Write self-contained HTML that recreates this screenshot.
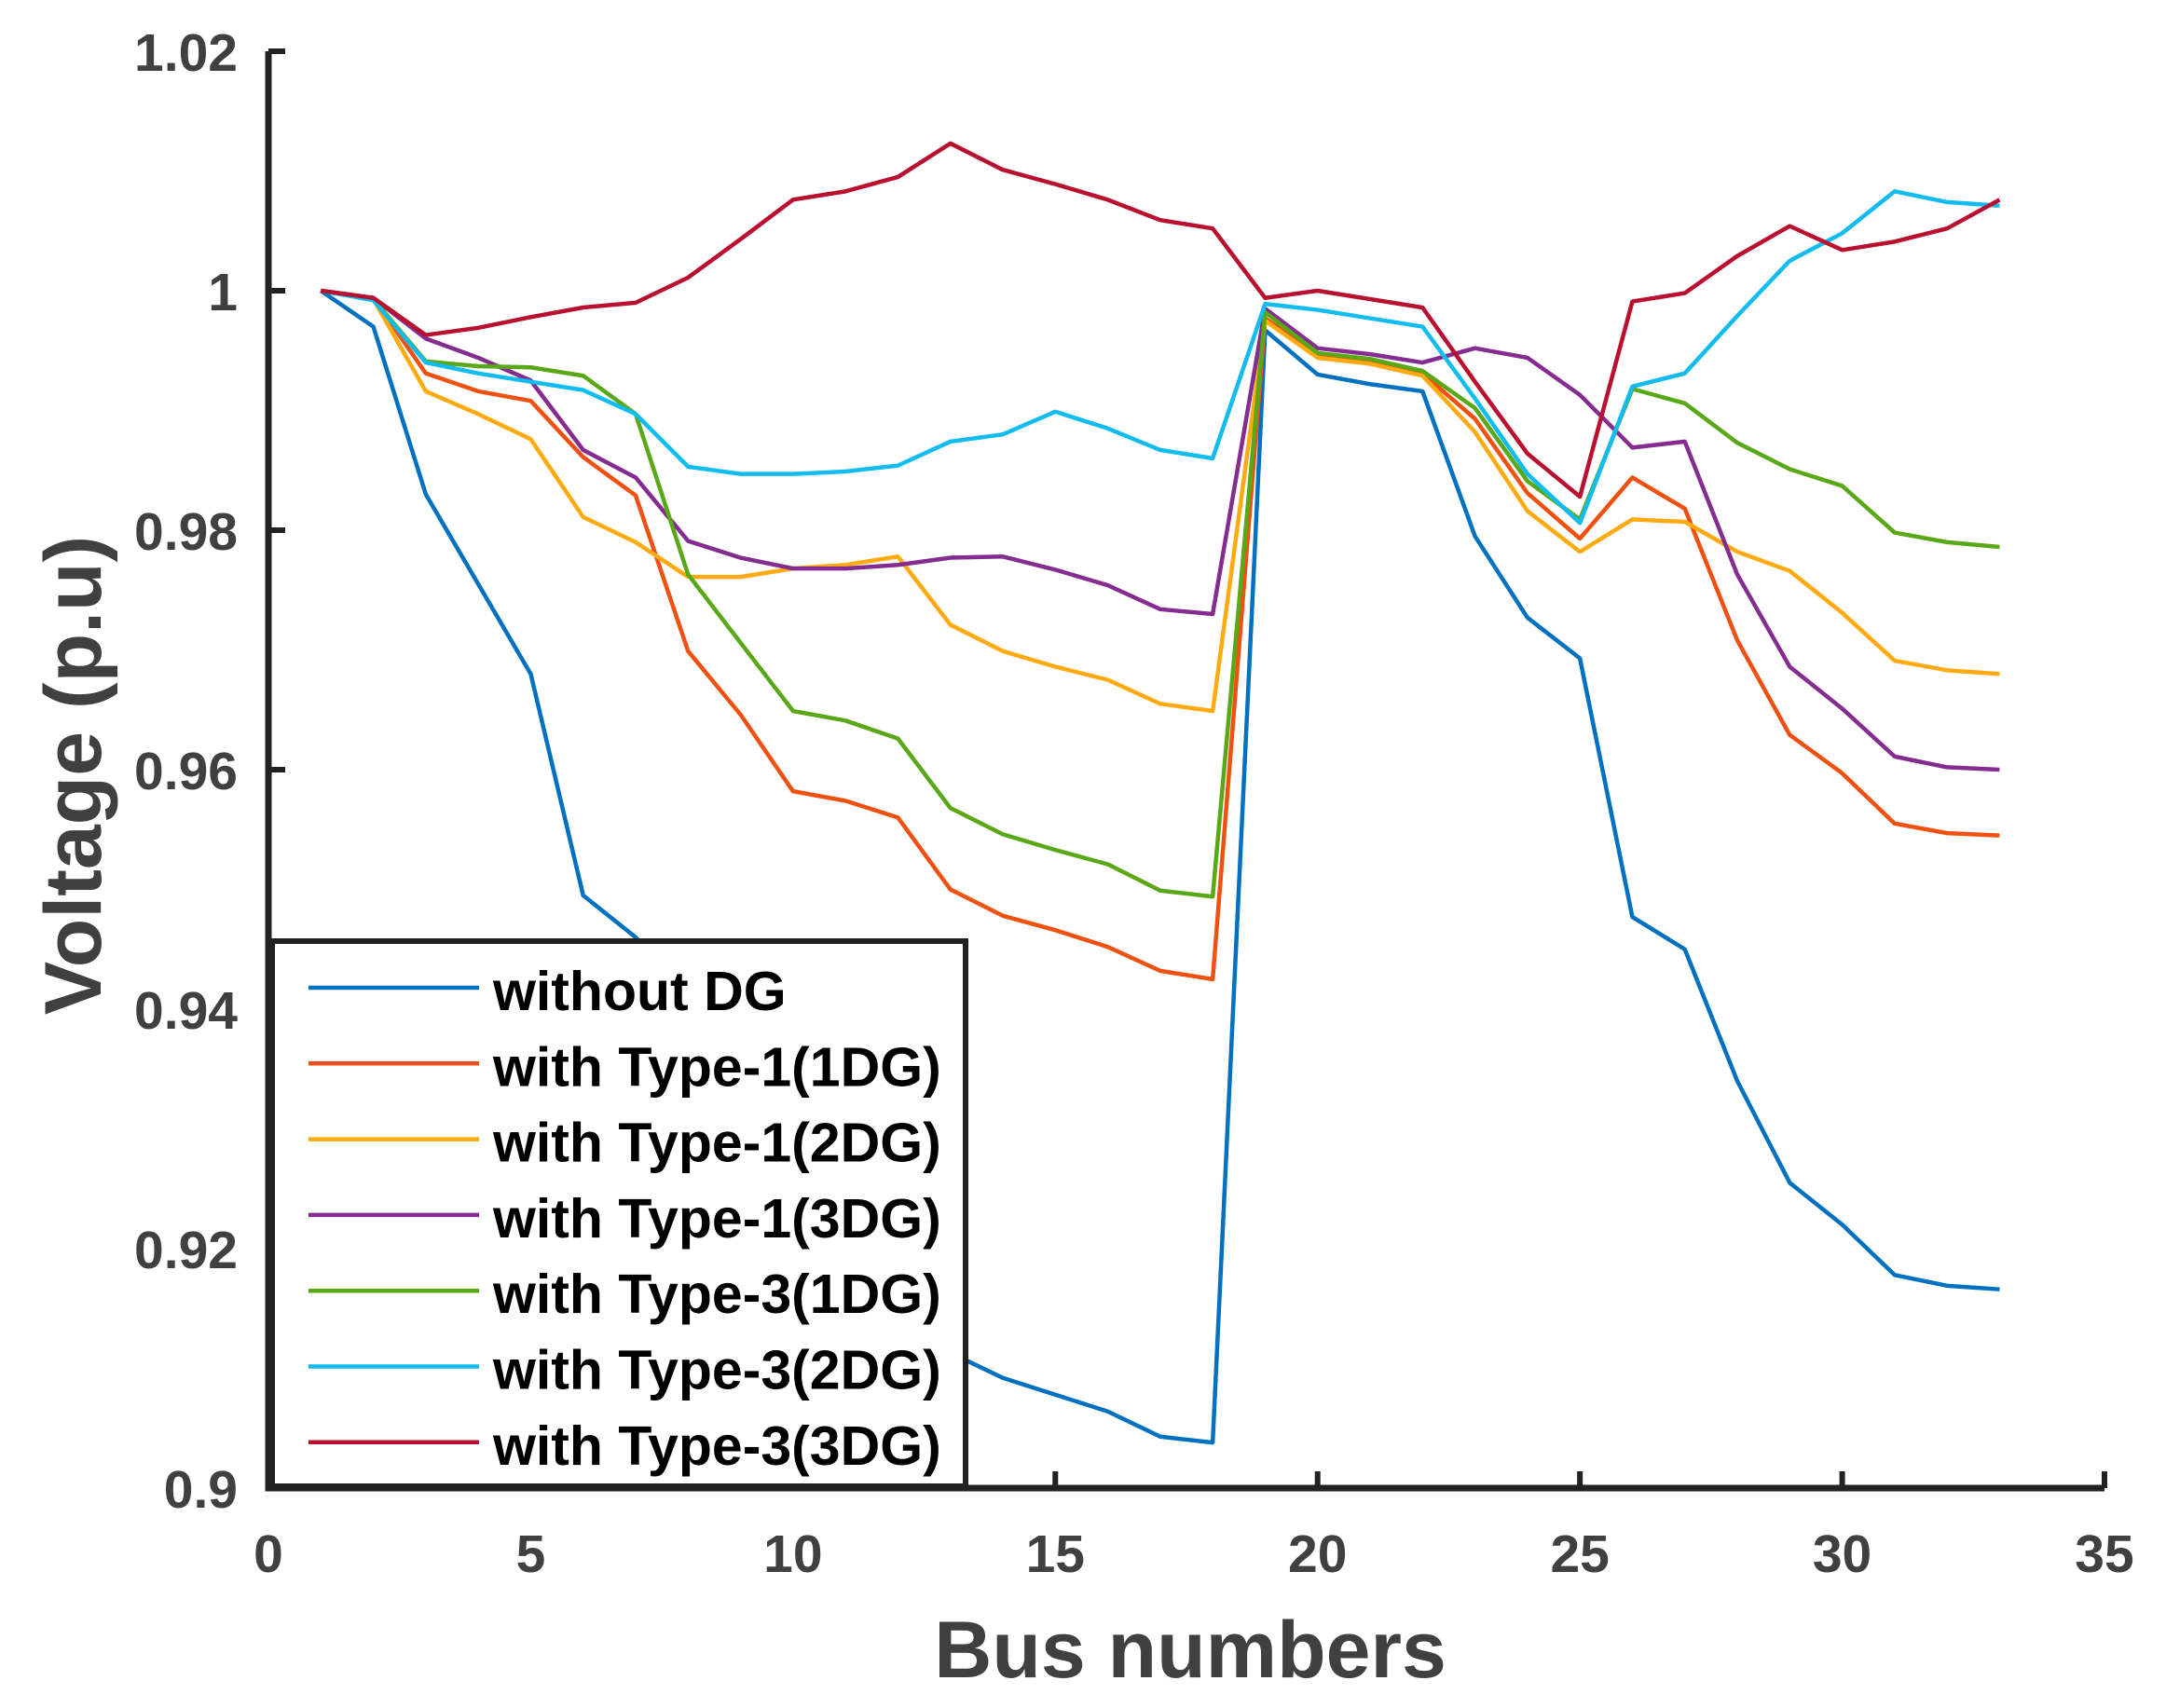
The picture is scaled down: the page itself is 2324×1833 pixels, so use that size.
<!DOCTYPE html>
<html><head><meta charset="utf-8"><style>
body{margin:0;background:#fff}
svg{display:block}
.tk{font-family:"Liberation Sans",sans-serif;font-weight:bold;font-size:57px;fill:#404040}
.lg{font-family:"Liberation Sans",sans-serif;font-weight:bold;font-size:59px;fill:#000}
</style></head><body>
<svg id="chart" width="2324" height="1833" viewBox="0 0 2324 1833" xmlns="http://www.w3.org/2000/svg">
<g id="marks"></g>
<g id="axes"></g>
<text x="1277" y="1800" text-anchor="middle" style="font-family:'Liberation Sans',sans-serif;font-weight:bold;font-size:86px;fill:#404040">Bus numbers</text>
<text transform="translate(108,832) rotate(-90)" text-anchor="middle" style="font-family:'Liberation Sans',sans-serif;font-weight:bold;font-size:86px;fill:#404040">Voltage (p.u)</text>
<g id="legend"></g>
</svg>
<script>
const buses=[1,2,3,4,5,6,7,8,9,10,11,12,13,14,15,16,17,18,19,20,21,22,23,24,25,26,27,28,29,30,31,32,33];
const noDG=[1.0,0.997,0.983,0.9755,0.968,0.9495,0.946,0.9413,0.935,0.9291,0.9282,0.9268,0.9113,0.9092,0.9078,0.9064,0.9043,0.9038,0.9967,0.993,0.9922,0.9916,0.9795,0.9727,0.9693,0.9477,0.945,0.934,0.9255,0.922,0.9178,0.9169,0.9166];
const t1dg1=[1.0,0.9994,0.9931,0.9916,0.9908,0.9861,0.9829,0.9699,0.9646,0.9582,0.9574,0.956,0.95,0.9478,0.9466,0.9452,0.9432,0.9425,0.9977,0.9946,0.9941,0.9931,0.9893,0.9831,0.9793,0.9844,0.9818,0.9708,0.9629,0.9597,0.9555,0.9547,0.9545];
const t1dg2=[1.0,0.9993,0.9916,0.9897,0.9876,0.9811,0.979,0.9761,0.9761,0.9768,0.9771,0.9778,0.9721,0.9699,0.9686,0.9675,0.9655,0.9649,0.9975,0.9944,0.9939,0.9929,0.9882,0.9816,0.9782,0.9809,0.9807,0.9782,0.9766,0.9731,0.9691,0.9683,0.968];
const t1dg3=[1.0,0.9994,0.996,0.9944,0.9925,0.9867,0.9844,0.9791,0.9777,0.9768,0.9768,0.9771,0.9777,0.9778,0.9767,0.9754,0.9734,0.973,0.9985,0.9952,0.9947,0.994,0.9952,0.9944,0.9913,0.9869,0.9874,0.9763,0.9686,0.9651,0.9611,0.9602,0.96];
const t3dg1=[1.0,0.9993,0.9941,0.9937,0.9936,0.9929,0.9897,0.9763,0.9706,0.9649,0.9641,0.9626,0.9568,0.9546,0.9533,0.9521,0.9499,0.9494,0.9982,0.9948,0.9943,0.9933,0.9902,0.9841,0.9809,0.9918,0.9906,0.9873,0.9851,0.9837,0.9798,0.979,0.9786];
const t3dg2=[1.0,0.9992,0.994,0.9931,0.9924,0.9917,0.9897,0.9853,0.9847,0.9847,0.9849,0.9854,0.9874,0.988,0.9899,0.9885,0.9867,0.986,0.9989,0.9984,0.9977,0.997,0.991,0.9847,0.9806,0.992,0.9931,0.9979,1.0025,1.0048,1.0083,1.0074,1.0071];
const t3dg3=[1.0,0.9994,0.9963,0.9969,0.9978,0.9986,0.999,1.0011,1.0043,1.0076,1.0083,1.0095,1.0123,1.0101,1.0089,1.0076,1.0059,1.0052,0.9994,1.0,0.9993,0.9986,0.9924,0.9864,0.9828,0.9991,0.9998,1.0029,1.0054,1.0034,1.0041,1.0052,1.0076];
const seriesNames=["without DG","with Type-1(1DG)","with Type-1(2DG)","with Type-1(3DG)","with Type-3(1DG)","with Type-3(2DG)","with Type-3(3DG)"];
const xTicks=[0,5,10,15,20,25,30,35];
const yTicks=[0.9,0.92,0.94,0.96,0.98,1.0,1.02];
const yTickLabels=["0.9","0.92","0.94","0.96","0.98","1","1.02"];

const NS="http://www.w3.org/2000/svg";
const X0=288,X1=2258,Y0=1597,Y1=55;
function xs(v){return X0+(v-0)/(35-0)*(X1-X0);}
function ys(v){return Y0-(v-0.9)/(1.02-0.9)*(Y0-Y1);}
function mk(t,a){const e=document.createElementNS(NS,t);for(const k in a)e.setAttribute(k,a[k]);return e;}
const all=[noDG,t1dg1,t1dg2,t1dg3,t3dg1,t3dg2,t3dg3];
const colors=["#0070C0","#F05010","#FFAA10","#842C90","#58A818","#12BCEE","#B8102E"];
const marks=document.getElementById('marks');
all.forEach((s,i)=>{
  const p=mk('polyline',{points:s.map((v,j)=>xs(buses[j])+','+ys(v)).join(' '),fill:'none',stroke:colors[i],'stroke-width':4.5,'stroke-linejoin':'round'});
  
  
  marks.appendChild(p);
});
const axes=document.getElementById('axes');
const ax=mk('path',{d:`M${X0},${Y1} V${Y0} H${X1}`,fill:'none',stroke:'#222','stroke-width':7});


axes.appendChild(ax);
xTicks.forEach(t=>{
  const l=mk('line',{x1:xs(t),x2:xs(t),y1:Y0,y2:Y0-18,stroke:'#222','stroke-width':6});
  
  
  axes.appendChild(l);
  const tx=mk('text',{x:xs(t),y:1687,'text-anchor':'middle',class:'tk'});tx.textContent=t;
  
  
  axes.appendChild(tx);
});
yTicks.forEach((t,i)=>{
  const l=mk('line',{x1:X0,x2:X0+18,y1:ys(t),y2:ys(t),stroke:'#222','stroke-width':6});
  
  
  axes.appendChild(l);
  const tx=mk('text',{x:255,y:ys(t)+21,'text-anchor':'end',class:'tk'});tx.textContent=yTickLabels[i];
  
  
  axes.appendChild(tx);
});
const lg=document.getElementById('legend');
const box=mk('rect',{x:292,y:1010,width:744,height:585,fill:'#fff',stroke:'#222','stroke-width':6});


lg.appendChild(box);
seriesNames.forEach((n,i)=>{
  const y=1060+i*81.3;
  const l=mk('line',{x1:331,x2:514,y1:y,y2:y,stroke:colors[i],'stroke-width':4.5});
  
  
  lg.appendChild(l);
  const t=mk('text',{x:529,y:y+24,class:'lg'});t.textContent=n;
  
  
  lg.appendChild(t);
});
</script>
</body></html>
